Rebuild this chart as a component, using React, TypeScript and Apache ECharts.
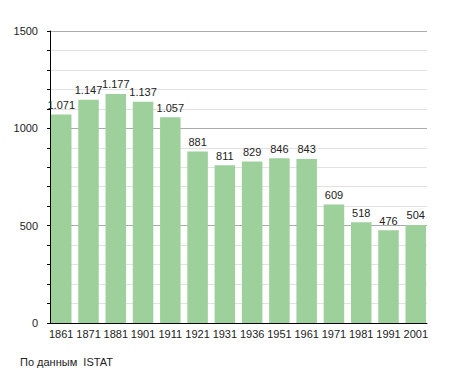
import React, { useEffect, useRef } from "react";
import * as echarts from "echarts";

const years = ["1861", "1871", "1881", "1901", "1911", "1921", "1931", "1936", "1951", "1961", "1971", "1981", "1991", "2001"];
const population = [1071, 1147, 1177, 1137, 1057, 881, 811, 829, 846, 843, 609, 518, 476, 504];
const sourceText = "По данным  ISTAT";

const fmt = (v: number) => {
  const s = String(v);
  return s.length > 3 ? s.slice(0, s.length - 3) + "." + s.slice(-3) : s;
};

export default function App() {
  const ref = useRef<HTMLDivElement>(null);
  useEffect(() => {
    const chart = echarts.init(ref.current!, null, { renderer: "svg" });
    const font = "Liberation Sans, Arial, sans-serif";
    chart.setOption({
      animation: false,
      backgroundColor: "#fff",
      textStyle: { fontFamily: font },
      grid: [
        { left: 50, right: 28, top: 31, bottom: 50, containLabel: false },
        { left: 47.6, right: 25.6, top: 31, bottom: 50, containLabel: false },
      ],
      xAxis: [
        {
          type: "category",
          gridIndex: 0,
          data: years,
          axisLine: { lineStyle: { color: "#000", width: 1 } },
          axisTick: { show: false },
          axisLabel: { show: false },
          z: 5,
        },
        {
          type: "category",
          gridIndex: 1,
          data: years,
          axisLine: { show: false },
          axisTick: { show: false },
          axisLabel: { color: "#222", fontSize: 11, margin: 5, fontFamily: font, interval: 0 },
        },
      ],
      yAxis: [
        {
          type: "value",
          gridIndex: 0,
          min: 0,
          max: 1500,
          interval: 100,
          axisLine: { show: true, lineStyle: { color: "#000", width: 1 } },
          axisTick: { show: true, length: 3, lineStyle: { color: "#000" } },
          axisLabel: {
            color: "#222",
            fontSize: 11,
            margin: 12,
            fontFamily: font,
            formatter: (v: number) => (v % 500 === 0 ? String(v) : ""),
          },
          splitLine: {
            show: true,
            lineStyle: { color: ["#aaaaaa", "#e2e2e2", "#e2e2e2", "#e2e2e2", "#e2e2e2"], width: 1 },
          },
        },
        {
          type: "value",
          gridIndex: 1,
          min: 0,
          max: 1500,
          interval: 100,
          show: false,
          splitLine: { show: false },
        },
      ],
      series: [
        {
          type: "bar",
          xAxisIndex: 1,
          yAxisIndex: 1,
          data: population,
          barCategoryGap: "24.8%",
          z: 3,
          itemStyle: { color: "#9dd09b" },
          label: {
            show: true,
            position: "top",
            distance: 4,
            color: "#222",
            fontSize: 11,
            fontFamily: font,
            formatter: (p: any) => fmt(p.value),
          },
        },
      ],
      graphic: [
        {
          type: "text",
          left: 20,
          top: 356,
          style: { text: sourceText, fontSize: 11, fill: "#222", fontFamily: font },
        },
      ],
    });
    return () => chart.dispose();
  }, []);
  return <div ref={ref} style={{ width: 455, height: 373, position: "absolute", left: 0, top: 0 }} />;
}
